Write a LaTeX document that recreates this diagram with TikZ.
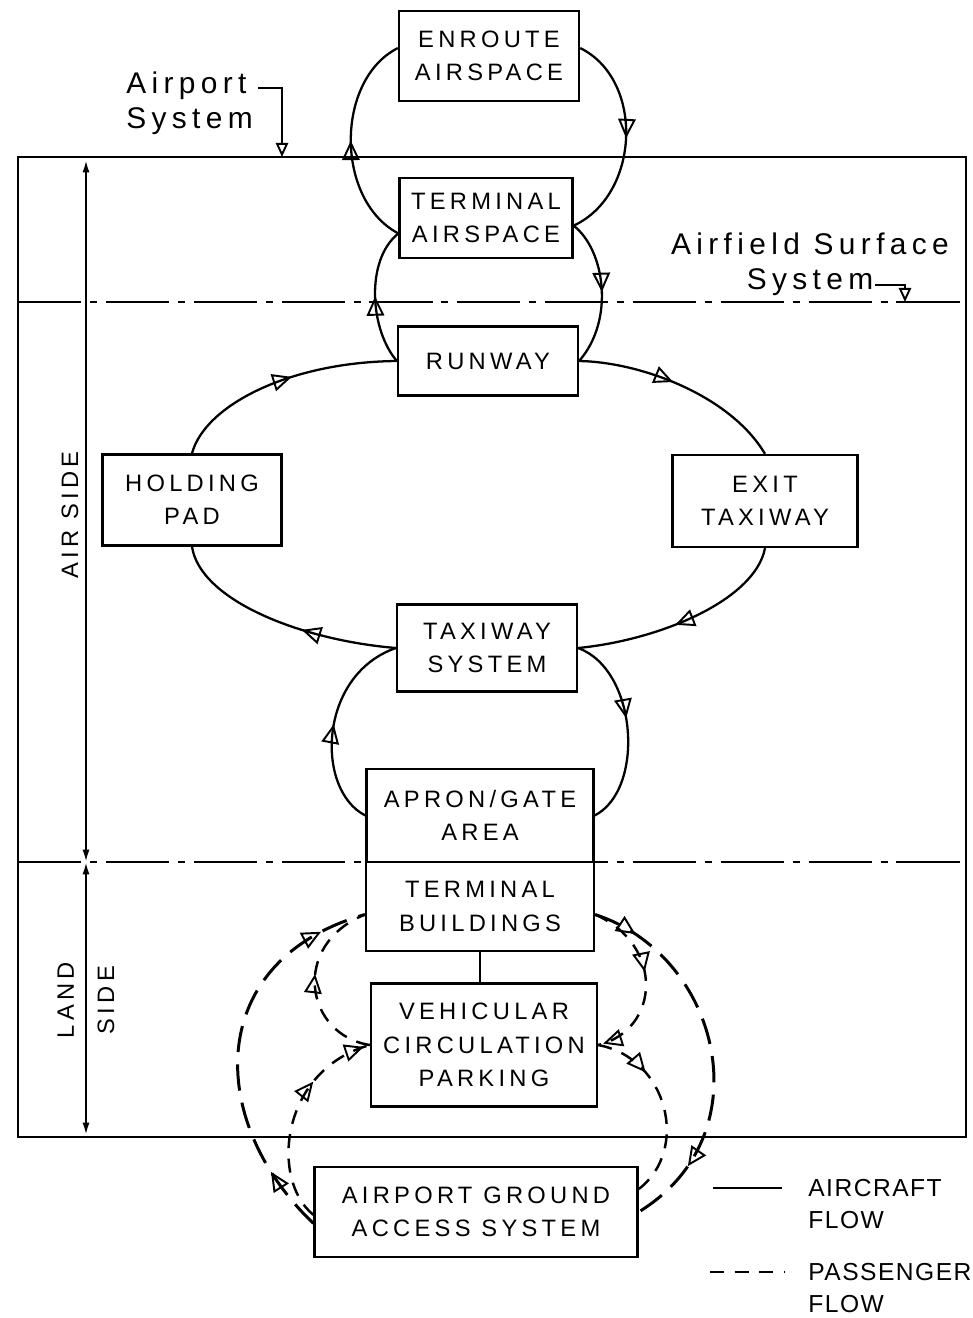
\documentclass[tikz,border=0pt]{standalone}
\usepackage{fontspec}
\setmainfont{Liberation Sans}
\newfontfamily\stencil[LetterSpace=18]{Liberation Sans}
\newfontfamily\legendface[LetterSpace=6]{Liberation Sans}
\newcommand{\boxfont}{\stencil\fontsize{13.5}{19}\selectfont}
\newcommand{\notefont}{\stencil\fontsize{17}{20}\selectfont}
\newcommand{\legendfont}{\legendface\fontsize{14}{18}\selectfont}
\usepackage{tikz}
\usetikzlibrary{arrows.meta, decorations.markings}

\begin{document}
\begin{tikzpicture}[
    x=0.02cm, y=-0.02cm,
    box/.style={rectangle, draw, line width=1.3pt, inner sep=0pt, align=center, font=\boxfont},
    sidetext/.style={inner sep=0pt, align=center, font=\boxfont, rotate=90},
    note/.style={inner sep=0pt, font=\notefont},
    legendtext/.style={inner sep=0pt, align=left, font=\legendfont, anchor=west},
    frame/.style={line width=1.5pt},
    zone/.style={line width=1.3pt, dash pattern=on 36pt off 5pt on 4pt off 5pt},
    craft/.style={line width=1.3pt},
    pax/.style={line width=1.7pt, dash pattern=on 15pt off 7pt},
    paxin/.style={line width=1.4pt, dash pattern=on 8pt off 6pt},
    flowtip/.style={postaction={decorate, decoration={markings,
        mark=at position #1 with {\arrow[line width=1.1pt]{Triangle[open, length=11pt, width=10pt]}}}}},
    sidearrow/.style={{Latex[length=7pt, width=4pt]}-{Latex[length=7pt, width=4pt]}, line width=1.2pt},
    leader/.style={-{Triangle[open, length=8pt, width=7pt]}, line width=1.1pt}
]
\useasboundingbox (0,0) rectangle (973,1318);

\draw[frame] (18,157) rectangle (966,1137);
\draw[zone] (18,302) -- (966,302);
\draw[zone] (18,862) -- (966,862);

\node[box, minimum width=3.6cm, minimum height=1.8cm] (enroute) at (489,56) {ENROUTE\\AIRSPACE};
\node[box, minimum width=3.46cm, minimum height=1.6cm] (termair) at (486,218) {TERMINAL\\AIRSPACE};
\node[box, minimum width=3.6cm, minimum height=1.38cm] (runway) at (488,361) {RUNWAY};
\node[box, minimum width=3.58cm, minimum height=1.82cm] (holding) at (192,500) {HOLDING\\PAD};
\node[box, minimum width=3.7cm, minimum height=1.84cm] (exit) at (765,501) {EXIT\\TAXIWAY};
\node[box, minimum width=3.6cm, minimum height=1.74cm] (taxi) at (487,648) {TAXIWAY\\SYSTEM};
\node[box, minimum width=4.54cm, minimum height=1.86cm] (apron) at (480,815.5) {APRON/GATE\\AREA};
\node[box, minimum width=4.56cm, minimum height=1.78cm] (termbld) at (480,906.5) {TERMINAL\\BUILDINGS};
\node[box, minimum width=4.52cm, minimum height=2.46cm] (vehic) at (484,1045) {VEHICULAR\\CIRCULATION\\PARKING};
\node[box, minimum width=6.46cm, minimum height=1.8cm] (access) at (476,1212) {AIRPORT GROUND\\ACCESS SYSTEM};

\node[note, align=left, anchor=west] (apsys) at (126,103) {Airport\\System};
\node[note, align=center] (afsys) at (810,264) {Airfield Surface\\System};
\node[sidetext] (airside) at (70,515) {AIR SIDE};
\node[sidetext] (landside) at (86,1000) {LAND\\[4pt]SIDE};

\coordinate (aplead) at (258,88);
\coordinate (aptip) at (282,157);
\coordinate (aflead) at (875,285);
\coordinate (aftip) at (905,302);
\draw[leader] (aplead) -| (aptip);
\draw[leader] (aflead) -| (aftip);

\coordinate (airtop) at (86,160);
\coordinate (sideline) at (86,862);
\coordinate (landbot) at (86,1135);
\draw[sidearrow] (airtop) -- (sideline);
\draw[sidearrow] (sideline) -- (landbot);

\draw[craft, flowtip=0.5] (termair.190) .. controls (335,200) and (335,80) .. (enroute.175);
\draw[craft, flowtip=0.5] (enroute.5) .. controls (645,80) and (640,195) .. (termair.-5);
\draw[craft, flowtip=0.5] (runway.west) .. controls (370,330) and (365,260) .. (termair.190);
\draw[craft, flowtip=0.5] (termair.-5) .. controls (605,250) and (615,320) .. (runway.east);
\draw[craft, flowtip=0.55] (holding.north) .. controls (205,405) and (290,362) .. (runway.west);
\draw[craft, flowtip=0.45] (runway.east) .. controls (640,362) and (730,395) .. (exit.north);
\draw[craft, flowtip=0.55] (exit.south) .. controls (755,600) and (660,640) .. (taxi.east);
\draw[craft, flowtip=0.4] (taxi.west) .. controls (300,640) and (200,600) .. (holding.south);
\draw[craft, flowtip=0.5] (apron.west) .. controls (315,790) and (318,675) .. (taxi.west);
\draw[craft, flowtip=0.45] (taxi.east) .. controls (638,670) and (645,790) .. (apron.east);

\draw[craft] (termbld.south) -- (termbld.south |- vehic.north);

\draw[pax, flowtip=0.17, flowtip=0.88] (access.184) .. controls (205,1120) and (205,960) .. (termbld.184);
\draw[paxin, flowtip=0.55] (vehic.west) .. controls (305,1035) and (290,945) .. (termbld.184);
\draw[paxin, flowtip=0.68, flowtip=0.97] (access.181) .. controls (270,1180) and (280,1070) .. (vehic.west);
\draw[pax, flowtip=0.12, flowtip=0.82] (termbld.-4) .. controls (720,955) and (765,1135) .. (access.east);
\draw[paxin, flowtip=0.45, flowtip=0.97] (termbld.-4) .. controls (665,945) and (660,1030) .. (vehic.east);
\draw[paxin, flowtip=0.3] (vehic.east) .. controls (668,1058) and (690,1150) .. (access.8);

\coordinate (acA) at (713,1188);
\coordinate (acB) at (782,1188);
\coordinate (pxA) at (710,1272);
\coordinate (pxB) at (785,1272);
\draw[craft] (acA) -- (acB);
\draw[paxin] (pxA) -- (pxB);
\node[legendtext] (aclabel) at (808,1204) {AIRCRAFT\\FLOW};
\node[legendtext] (pxlabel) at (808,1288) {PASSENGER\\FLOW};
\end{tikzpicture}
\end{document}
